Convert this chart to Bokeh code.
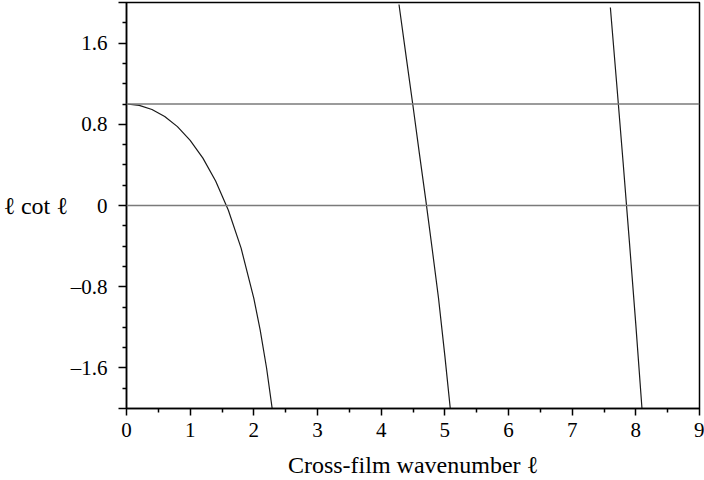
from bokeh.plotting import figure
from bokeh.models import FixedTicker, Range1d, Span, CustomJSTickFormatter
from bokeh.embed import file_html
from bokeh.resources import INLINE

# ---- data (l cot l, three branches) ----
b1_l = [0.0, 0.2, 0.4, 0.6, 0.8, 1.0, 1.2, 1.4, 1.6, 1.8, 2.0, 2.1, 2.2, 2.3, 2.32]
b1_v = [1.0, 0.987, 0.946, 0.877, 0.777, 0.642, 0.467, 0.241, -0.047, -0.420, -0.915, -1.228, -1.601, -2.055, -2.15]
b2_l = [4.28, 4.4, 4.5, 4.6, 4.7, 4.8, 4.9, 5.0, 5.11]
b2_v = [1.98, 1.433, 0.980, 0.513, 0.058, -0.421, -0.909, -1.479, -2.15]
b3_l = [7.6, 7.7, 7.8, 7.9, 8.0, 8.1, 8.12]
b3_v = [1.95, 1.194, 0.426, -0.366, -1.176, -2.03, -2.2]
ref_levels = [1.0, 0.0]

x_major = [0, 1, 2, 3, 4, 5, 6, 7, 8, 9]
x_minor = [0.5, 1.5, 2.5, 3.5, 4.5, 5.5, 6.5, 7.5, 8.5]
y_major = [-2.0, -1.6, -0.8, 0.0, 0.8, 1.6, 2.0]
y_minor = [-1.8, -1.4, -1.2, -1.0, -0.6, -0.4, -0.2, 0.2, 0.4, 0.6, 1.0, 1.2, 1.4, 1.8]

FONT = "Liberation Serif"

p = figure(width=704, height=480, output_backend="svg", toolbar_location=None,
           x_range=Range1d(0, 9), y_range=Range1d(-2.0, 2.0),
           min_border_left=124, min_border_right=5, min_border_top=2, min_border_bottom=71)

p.grid.visible = False
p.background_fill_color = "white"
p.border_fill_color = "white"
p.outline_line_color = "black"
p.outline_line_width = 1.5
p.outline_line_alpha = 1.0

for lvl in ref_levels:
    p.add_layout(Span(location=lvl, dimension="width", line_color="#7a7a7a", line_width=1.5))

for xs, ys in [(b1_l, b1_v), (b2_l, b2_v), (b3_l, b3_v)]:
    p.line(xs, ys, line_color="#1a1a1a", line_width=1.2)

p.xaxis.ticker = FixedTicker(ticks=x_major, minor_ticks=x_minor)
p.yaxis.ticker = FixedTicker(ticks=y_major, minor_ticks=y_minor)
p.yaxis.formatter = CustomJSTickFormatter(code="""
if (Math.abs(tick) > 1.9) return '';
if (Math.abs(tick) < 1e-9) return '0';
return (tick < 0 ? '\\u2013' : '') + Math.abs(tick).toFixed(1);
""")

for ax in [p.xaxis[0], p.yaxis[0]]:
    ax.axis_line_color = "black"
    ax.axis_line_width = 1.5
    ax.major_tick_line_color = "black"
    ax.major_tick_line_width = 1.5
    ax.minor_tick_line_color = "black"
    ax.minor_tick_line_width = 1.5
    ax.major_tick_in = 0
    ax.minor_tick_in = 0
    ax.major_label_text_font = FONT
    ax.major_label_text_font_size = "21px"
    ax.major_label_text_color = "black"
    ax.axis_label_text_font = FONT
    ax.axis_label_text_font_size = "24px"
    ax.axis_label_text_font_style = "normal"
    ax.axis_label_text_color = "black"

p.xaxis.major_tick_out = 7
p.xaxis.minor_tick_out = 4
p.yaxis.major_tick_out = 8
p.yaxis.minor_tick_out = 4
p.xaxis.major_label_standoff = 7
p.yaxis.major_label_standoff = 11

p.xaxis.axis_label = "Cross-film wavenumber \u2113"
p.xaxis.axis_label_standoff = 12
p.yaxis.axis_label = "\u2113 cot \u2113"
p.yaxis.axis_label_orientation = "horizontal"
p.yaxis.axis_label_standoff = 0

open("out.html", "w").write(file_html(p, INLINE))
